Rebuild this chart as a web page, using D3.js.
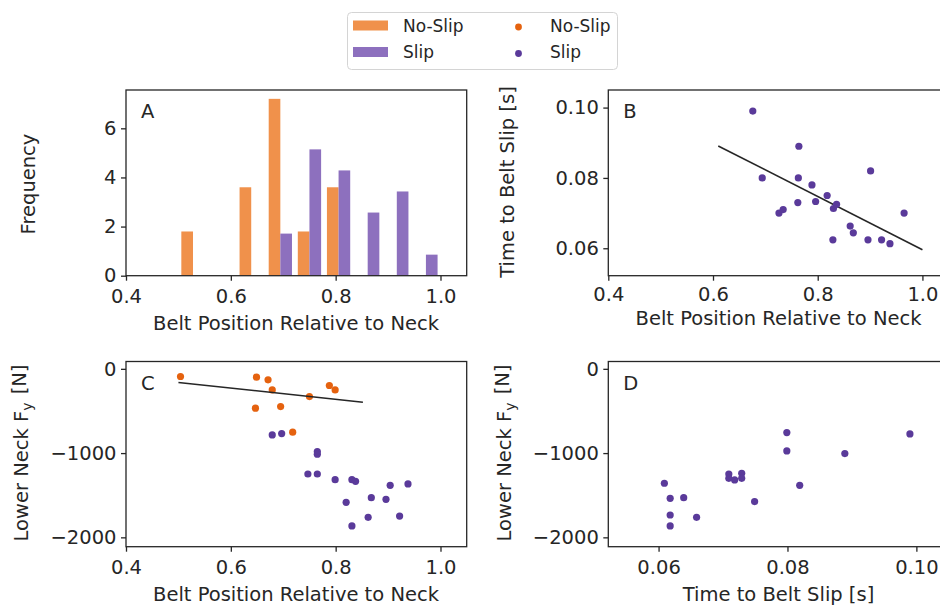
<!DOCTYPE html>
<html>
<head>
<meta charset="utf-8">
<script src="https://cdn.jsdelivr.net/npm/d3@7"></script>
<style>
  html, body { margin: 0; padding: 0; background: #fff; }
  svg { display: block; font-family: "DejaVu Sans", sans-serif; }
  .tick text { fill: #262626; font-size: 19.5px; }
  .tick line { stroke: #262626; stroke-width: 1.3; }
  .lbl { fill: #262626; font-size: 19.5px; }
</style>
</head>
<body>
<svg id="fig" width="940" height="607"></svg>
<script>
// ---- data ----
// Histogram (density) of belt position, 9 bins between 0.5 and 1.0
const binEdges = [0.5, 0.5556, 0.6111, 0.6667, 0.7222, 0.7778, 0.8333, 0.8889, 0.9444, 1.0];
const noSlipDensity = [1.8, 0, 3.6, 7.2, 1.8, 3.6, 0, 0, 0];
const slipDensity = [0, 0, 0, 1.714, 5.143, 4.286, 2.571, 3.429, 0.857];

// Panel B: time to belt slip vs belt position (slip cases)
const slipBeltPosB = [0.676, 0.694, 0.726, 0.734, 0.764, 0.763, 0.762, 0.789, 0.796, 0.818,
                      0.830, 0.836, 0.829, 0.862, 0.868, 0.896, 0.901, 0.922, 0.938, 0.965];
const slipTimeB = [0.099, 0.080, 0.070, 0.071, 0.089, 0.080, 0.073, 0.078, 0.0733, 0.075,
                   0.0713, 0.0725, 0.0624, 0.0663, 0.0644, 0.0624, 0.082, 0.0624, 0.0613, 0.070];
const fitBX = [0.61, 1.0];
const fitBY = [0.0891, 0.0596];

// Panel C: lower neck Fy vs belt position
const noSlipBeltPos = [0.504, 0.649, 0.671, 0.679, 0.647, 0.695, 0.718, 0.750, 0.788, 0.799];
const noSlipFy = [-91, -99, -131, -250, -467, -448, -752, -329, -198, -250];
const slipBeltPosC = [0.679, 0.697, 0.747, 0.765, 0.765, 0.765, 0.799, 0.820, 0.831, 0.838,
                      0.831, 0.862, 0.868, 0.896, 0.904, 0.922, 0.938];
const slipFyC = [-784, -768, -1248, -982, -1014, -1248, -1315, -1584, -1315, -1335,
                 -1865, -1762, -1529, -1549, -1382, -1747, -1366];
const fitCX = [0.50, 0.852];
const fitCY = [-162, -396];

// Panel D: lower neck Fy vs time to belt slip
const slipTimeD = [0.0609, 0.0618, 0.0639, 0.0618, 0.0618, 0.0659, 0.0709, 0.0709, 0.0718, 0.0729,
                   0.0729, 0.0749, 0.0799, 0.0799, 0.0819, 0.0889, 0.0990];
const slipFyD = [-1358, -1537, -1529, -1735, -1865, -1762, -1248, -1299, -1319, -1240,
                 -1299, -1576, -756, -974, -1382, -1006, -772];

// Tick values
const beltTicks = [0.4, 0.6, 0.8, 1.0];
const freqTicks = [0, 2, 4, 6];
const timeTicks = [0.06, 0.08, 0.10];
const fyTicks = [0, -1000, -2000];

// ---- style ----
const barOrange = "#f0914b";
const barPurple = "#8d70be";
const dotOrange = "#e5620f";
const dotPurple = "#5a3a9a";
const ink = "#262626";

const svg = d3.select("#fig");

function panel(box, xDomain, yDomain, xTicks, yTicks, xFmt, yFmt, xPad = 8) {
  const x = d3.scaleLinear().domain(xDomain).range([box.l, box.r]);
  const y = d3.scaleLinear().domain(yDomain).range([box.b, box.t]);
  const g = svg.append("g");
  g.append("g").attr("transform", `translate(0,${box.b})`)
    .call(d3.axisBottom(x).tickValues(xTicks).tickFormat(xFmt).tickSizeInner(5).tickSizeOuter(0).tickPadding(xPad))
    .call(a => a.select(".domain").remove());
  g.append("g").attr("transform", `translate(${box.l},0)`)
    .call(d3.axisLeft(y).tickValues(yTicks).tickFormat(yFmt).tickSizeInner(5).tickSizeOuter(0).tickPadding(4.5))
    .call(a => a.select(".domain").remove());
  g.selectAll(".tick text").attr("font-family", "DejaVu Sans");
  const plot = g.append("g");
  g.append("rect").attr("x", box.l).attr("y", box.t)
    .attr("width", box.r - box.l).attr("height", box.b - box.t)
    .attr("fill", "none").attr("stroke", ink).attr("stroke-width", 1.3);
  return { x, y, g, plot };
}

function letter(p, box, txt) {
  p.g.append("text").attr("class", "lbl").attr("x", box.l + 15).attr("y", box.t + 28)
    .attr("font-size", "20px").text(txt);
}

function ylabel(p, xPos, yCenter, build) {
  const t = p.g.append("text").attr("class", "lbl")
    .attr("transform", `translate(${xPos},${yCenter}) rotate(-90)`)
    .attr("text-anchor", "middle");
  build(t);
}

function xlabel(p, xCenter, yBase, txt) {
  p.g.append("text").attr("class", "lbl").attr("x", xCenter).attr("y", yBase)
    .attr("text-anchor", "middle").text(txt);
}

const fmt1 = d3.format(".1f");
const fmt2 = d3.format(".2f");
const fmtInt = d3.format("d");

// ---- Panel A: histogram ----
const boxA = { l: 126, r: 466.7, t: 90, b: 275.7 };
const A = panel(boxA, [0.4, 1.05], [0, 7.56], beltTicks, freqTicks, fmt1, fmtInt);
const bins = d3.range(binEdges.length - 1).map(i => ({
  x0: binEdges[i], x1: binEdges[i + 1], no: noSlipDensity[i], slip: slipDensity[i]
}));
function barsFor(key, offset, color) {
  A.plot.selectAll(null).data(bins.filter(d => d[key] > 0)).join("rect")
    .attr("x", d => A.x(d.x0 + (d.x1 - d.x0) * offset))
    .attr("width", d => A.x(d.x0 + (d.x1 - d.x0) * (offset + 0.4)) - A.x(d.x0 + (d.x1 - d.x0) * offset))
    .attr("y", d => A.y(d[key]))
    .attr("height", d => A.y(0) - A.y(d[key]))
    .attr("fill", color);
}
barsFor("no", 0.1, barOrange);
barsFor("slip", 0.5, barPurple);
letter(A, boxA, "A");
ylabel(A, 35, 184, t => t.text("Frequency"));
xlabel(A, 296, 330, "Belt Position Relative to Neck");

// ---- Panel B ----
const boxB = { l: 608.3, r: 948.6, t: 90, b: 275.7 };
const B = panel(boxB, [0.4, 1.05], [0.0522, 0.105], beltTicks, timeTicks, fmt1, fmt2, 6.5);
B.plot.append("path")
  .attr("d", d3.line().x(d => B.x(d[0])).y(d => B.y(d[1]))(d3.zip(fitBX, fitBY)))
  .attr("stroke", ink).attr("stroke-width", 1.6).attr("fill", "none");
B.plot.selectAll(null).data(d3.zip(slipBeltPosB, slipTimeB)).join("circle")
  .attr("cx", d => B.x(d[0])).attr("cy", d => B.y(d[1])).attr("r", 3.6).attr("fill", dotPurple);
letter(B, boxB, "B");
ylabel(B, 514, 182, t => t.text("Time to Belt Slip [s]"));
xlabel(B, 778.5, 325, "Belt Position Relative to Neck");

// ---- Panel C ----
const boxC = { l: 126, r: 466.7, t: 361.5, b: 546.7 };
const C = panel(boxC, [0.4, 1.05], [-2111, 87], beltTicks, fyTicks, fmt1, fmtInt);
C.plot.selectAll(null).data(d3.zip(slipBeltPosC, slipFyC)).join("circle")
  .attr("cx", d => C.x(d[0])).attr("cy", d => C.y(d[1])).attr("r", 3.6).attr("fill", dotPurple);
C.plot.selectAll(null).data(d3.zip(noSlipBeltPos, noSlipFy)).join("circle")
  .attr("cx", d => C.x(d[0])).attr("cy", d => C.y(d[1])).attr("r", 3.6).attr("fill", dotOrange);
C.plot.append("path")
  .attr("d", d3.line().x(d => C.x(d[0])).y(d => C.y(d[1]))(d3.zip(fitCX, fitCY)))
  .attr("stroke", ink).attr("stroke-width", 1.6).attr("fill", "none");
letter(C, boxC, "C");
function fyLabel(t) {
  t.append("tspan").text("Lower Neck F");
  t.append("tspan").attr("font-size", "14px").attr("dy", "0.3em").text("y");
  t.append("tspan").attr("dy", "-0.3em").attr("dx", "2").text(" [N]");
}
ylabel(C, 28, 453, fyLabel);
xlabel(C, 296, 601, "Belt Position Relative to Neck");

// ---- Panel D ----
const boxD = { l: 608.3, r: 948.6, t: 361.5, b: 546.7 };
const D = panel(boxD, [0.0522, 0.105], [-2111, 87], timeTicks, fyTicks, fmt2, fmtInt);
D.plot.selectAll(null).data(d3.zip(slipTimeD, slipFyD)).join("circle")
  .attr("cx", d => D.x(d[0])).attr("cy", d => D.y(d[1])).attr("r", 3.6).attr("fill", dotPurple);
letter(D, boxD, "D");
ylabel(D, 511, 453, fyLabel);
xlabel(D, 778.5, 601, "Time to Belt Slip [s]");

// ---- Legend ----
const leg = svg.append("g");
leg.append("rect").attr("x", 347.5).attr("y", 12.5).attr("width", 270).attr("height", 57)
  .attr("rx", 4).attr("fill", "#fff").attr("stroke", "#d4d4d4").attr("stroke-width", 1);
const legendRows = [
  { label: "No-Slip", bar: barOrange, dot: dotOrange, cy: 25.5 },
  { label: "Slip", bar: barPurple, dot: dotPurple, cy: 52 }
];
legendRows.forEach(r => {
  leg.append("rect").attr("x", 353).attr("y", r.cy - 5).attr("width", 35).attr("height", 10).attr("fill", r.bar);
  leg.append("text").attr("x", 403).attr("y", r.cy + 6).attr("font-size", "17px").attr("fill", ink).text(r.label);
  leg.append("circle").attr("cx", 518.5).attr("cy", r.cy + 1.5).attr("r", 3.4).attr("fill", r.dot);
  leg.append("text").attr("x", 550).attr("y", r.cy + 6).attr("font-size", "17px").attr("fill", ink).text(r.label);
});
</script>
</body>
</html>
